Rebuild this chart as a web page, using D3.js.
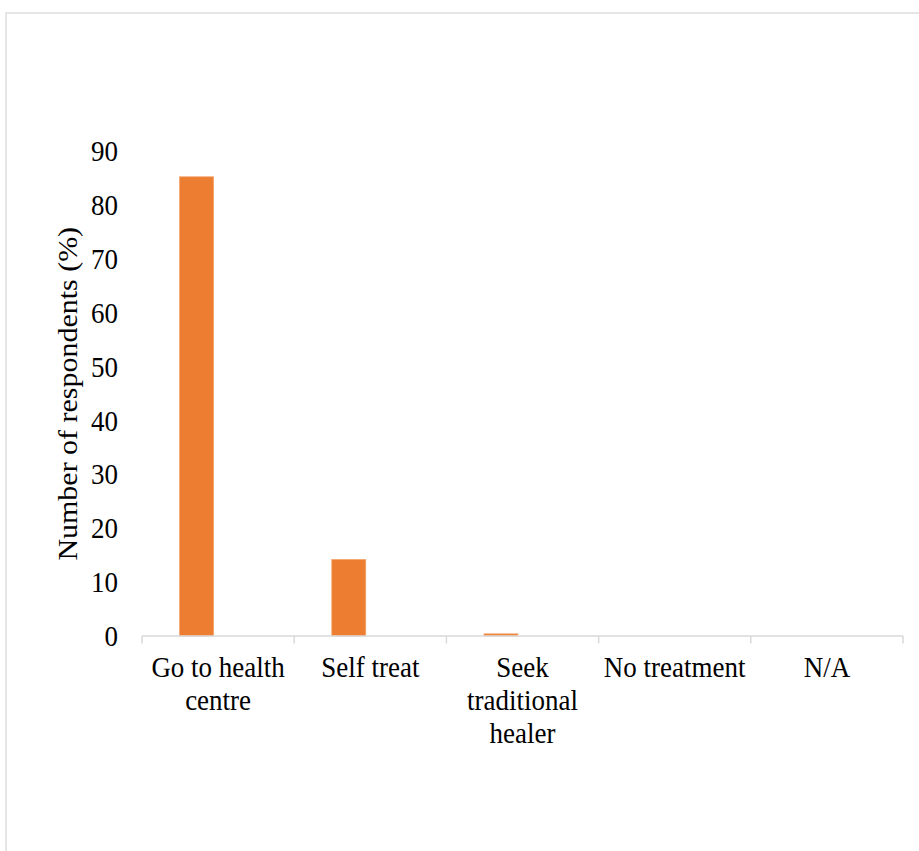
<!DOCTYPE html>
<html>
<head>
<meta charset="utf-8">
<script src="https://cdn.jsdelivr.net/npm/d3@7"></script>
<style>
  html, body { margin: 0; padding: 0; background: #fff; }
  svg { display: block; }
</style>
</head>
<body>
<script>
// Treatment-seeking behaviour of respondents
const categories = [
  ["Go to health", "centre"],
  ["Self treat"],
  ["Seek", "traditional", "healer"],
  ["No treatment"],
  ["N/A"]
];
const values = [85.3, 14.2, 0.4, 0, 0];
const yTicks = [0, 10, 20, 30, 40, 50, 60, 70, 80, 90];
const yTitle = "Number of respondents (%)";

const W = 919, H = 851;
const plot = { left: 142, right: 903, top: 151.5, bottom: 636 };
const FONT = "'Liberation Serif', 'Times New Roman', Tinos, serif";
const STRETCH = 1.11; // text is set slightly taller than wide

const svg = d3.select("body").append("svg")
  .attr("width", W).attr("height", H)
  .style("font-family", FONT);

// Chart frame
svg.append("rect")
  .attr("x", 6).attr("y", 13)
  .attr("width", W + 20).attr("height", H + 20)
  .attr("fill", "#fff")
  .attr("stroke", "#d9d9d9").attr("stroke-width", 1.3);

const keys = categories.map((c, i) => i);
const x = d3.scaleBand().domain(keys).range([plot.left, plot.right]).paddingInner(0).paddingOuter(0);
const y = d3.scaleLinear().domain([0, 90]).range([plot.bottom, plot.top]);

// Bars
const bw = x.bandwidth();
svg.append("g").selectAll("rect")
  .data(values.map((v, i) => ({ v, i })).filter(d => d.v > 0))
  .join("rect")
  .attr("x", d => x(d.i) + bw * 0.247)
  .attr("width", bw * 0.223)
  .attr("y", d => y(d.v))
  .attr("height", d => y(0) - y(d.v))
  .attr("fill", "#ed7d31")
  .attr("stroke", "#f5a36b").attr("stroke-width", 0.8);

// X axis: line with tick marks at category boundaries
const xAxis = svg.append("g");
xAxis.append("line")
  .attr("x1", plot.left).attr("x2", plot.right)
  .attr("y1", y(0)).attr("y2", y(0))
  .attr("stroke", "#d9d9d9").attr("stroke-width", 1.5);
const bounds = keys.map(k => x(k)).concat([plot.right]);
xAxis.selectAll("line.tick")
  .data(bounds)
  .join("line").attr("class", "tick")
  .attr("x1", d => d).attr("x2", d => d)
  .attr("y1", y(0)).attr("y2", y(0) + 7.5)
  .attr("stroke", "#d9d9d9").attr("stroke-width", 1.5);

// Category labels, one text per line
const catLines = categories.flatMap((lines, i) =>
  lines.map((t, j) => ({ t, cx: x(i) + bw / 2, j })));
xAxis.selectAll("text.cat")
  .data(catLines)
  .join("text").attr("class", "cat")
  .attr("transform", d => `translate(${d.cx}, ${677 + d.j * 33}) scale(1, ${STRETCH})`)
  .attr("text-anchor", "middle")
  .attr("font-family", FONT)
  .attr("font-size", 27)
  .attr("fill", "#000")
  .text(d => d.t);

// Y tick labels
svg.append("g").selectAll("text")
  .data(yTicks)
  .join("text")
  .attr("transform", d => `translate(118, ${y(d)}) scale(1, ${STRETCH})`)
  .attr("dy", "0.33em")
  .attr("text-anchor", "end")
  .attr("font-family", FONT)
  .attr("font-size", 27)
  .attr("fill", "#000")
  .text(d => d);

// Y axis title
svg.append("text")
  .attr("transform", `translate(77, ${(plot.top + plot.bottom) / 2}) rotate(-90) scale(${STRETCH}, 1)`)
  .attr("text-anchor", "middle")
  .attr("font-family", FONT)
  .attr("font-size", 27)
  .attr("fill", "#000")
  .text(yTitle);
</script>
</body>
</html>
